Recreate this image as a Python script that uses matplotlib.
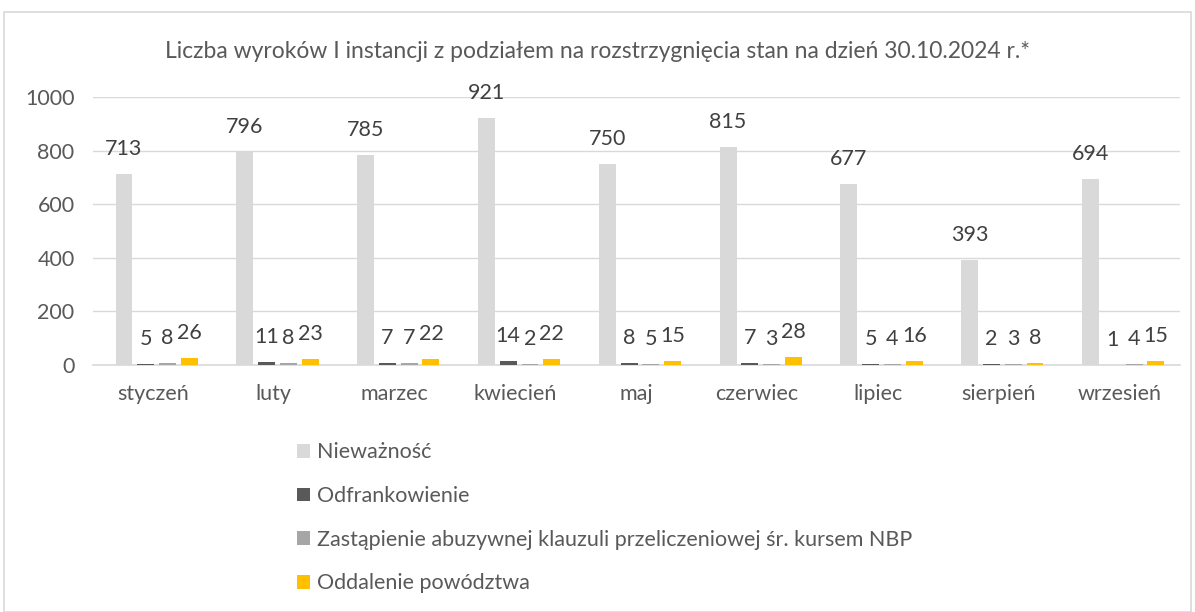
import matplotlib
matplotlib.use("Agg")
import matplotlib.pyplot as plt
import numpy as np
from matplotlib.patches import Rectangle

months = ["styczeń", "luty", "marzec", "kwiecień", "maj", "czerwiec", "lipiec", "sierpień", "wrzesień"]
niewaznosc = [713, 796, 785, 921, 750, 815, 677, 393, 694]
odfrankowienie = [5, 11, 7, 14, 8, 7, 5, 2, 1]
zastapienie = [8, 8, 7, 2, 5, 3, 4, 3, 4]
oddalenie = [26, 23, 22, 22, 15, 28, 16, 8, 15]
series_names = ["Nieważność", "Odfrankowienie",
                "Zastąpienie abuzywnej klauzuli przeliczeniowej śr. kursem NBP",
                "Oddalenie powództwa"]
colors = ["#d9d9d9", "#595959", "#a6a6a6", "#ffc000"]
yticks = [0, 200, 400, 600, 800, 1000]

plt.rcParams['font.family'] = ['Lato', 'DejaVu Sans']
txt = "#595959"

fig = plt.figure(figsize=(11.95, 6.12), dpi=100)
fig.patches.append(Rectangle((4/1195, 0), 1187/1195, 1 - 12/612, transform=fig.transFigure,
                             fill=False, edgecolor="#d9d9d9", linewidth=1.2))
ax = fig.add_axes([92.6/1195, 1 - 365/612, 1087.4/1195, 268/612])

x = np.arange(len(months))
w = 0.14
step = 0.18
data = [niewaznosc, odfrankowienie, zastapienie, oddalenie]
handles = []
for i, (vals, c, name) in enumerate(zip(data, colors, series_names)):
    pos = x + (i - 1.5) * step + 0.03
    b = ax.bar(pos, vals, width=w, color=c, label=name, zorder=3)
    handles.append(b)
    for p, v in zip(pos, vals):
        ax.annotate(str(v), xy=(p, v), xytext=(0, 18), textcoords="offset points",
                    ha="center", va="center", fontsize=15.5, color="#404040")

ax.set_xlim(-0.5, len(months) - 0.5)
ax.set_ylim(0, 1000)
ax.set_yticks(yticks)
ax.set_yticklabels([str(t) for t in yticks], fontsize=15.5, color=txt)
ax.set_xticks(x)
ax.set_xticklabels(months, fontsize=15.5, color=txt)
ax.tick_params(axis="x", length=0, pad=14)
ax.tick_params(axis="y", length=0, pad=13)
ax.grid(axis="y", color="#d9d9d9", linewidth=1, zorder=0)
for s in ["top", "right", "left"]:
    ax.spines[s].set_visible(False)
ax.spines["bottom"].set_color("#d9d9d9")
ax.spines["bottom"].set_linewidth(1.2)

fig.text(0.5, 1 - 52/612, "Liczba wyroków I instancji z podziałem na rozstrzygnięcia stan na dzień 30.10.2024 r.*",
         ha="center", va="center", fontsize=16.5, color=txt)

fig.legend(handles=handles, labels=series_names, loc="upper left",
           bbox_to_anchor=(278/1195, 1 - 423/612), frameon=False, fontsize=15.5,
           labelcolor=txt, handlelength=0.6, handleheight=0.6, handletextpad=0.3,
           labelspacing=1.1)

fig.savefig("out.png", dpi=100)
